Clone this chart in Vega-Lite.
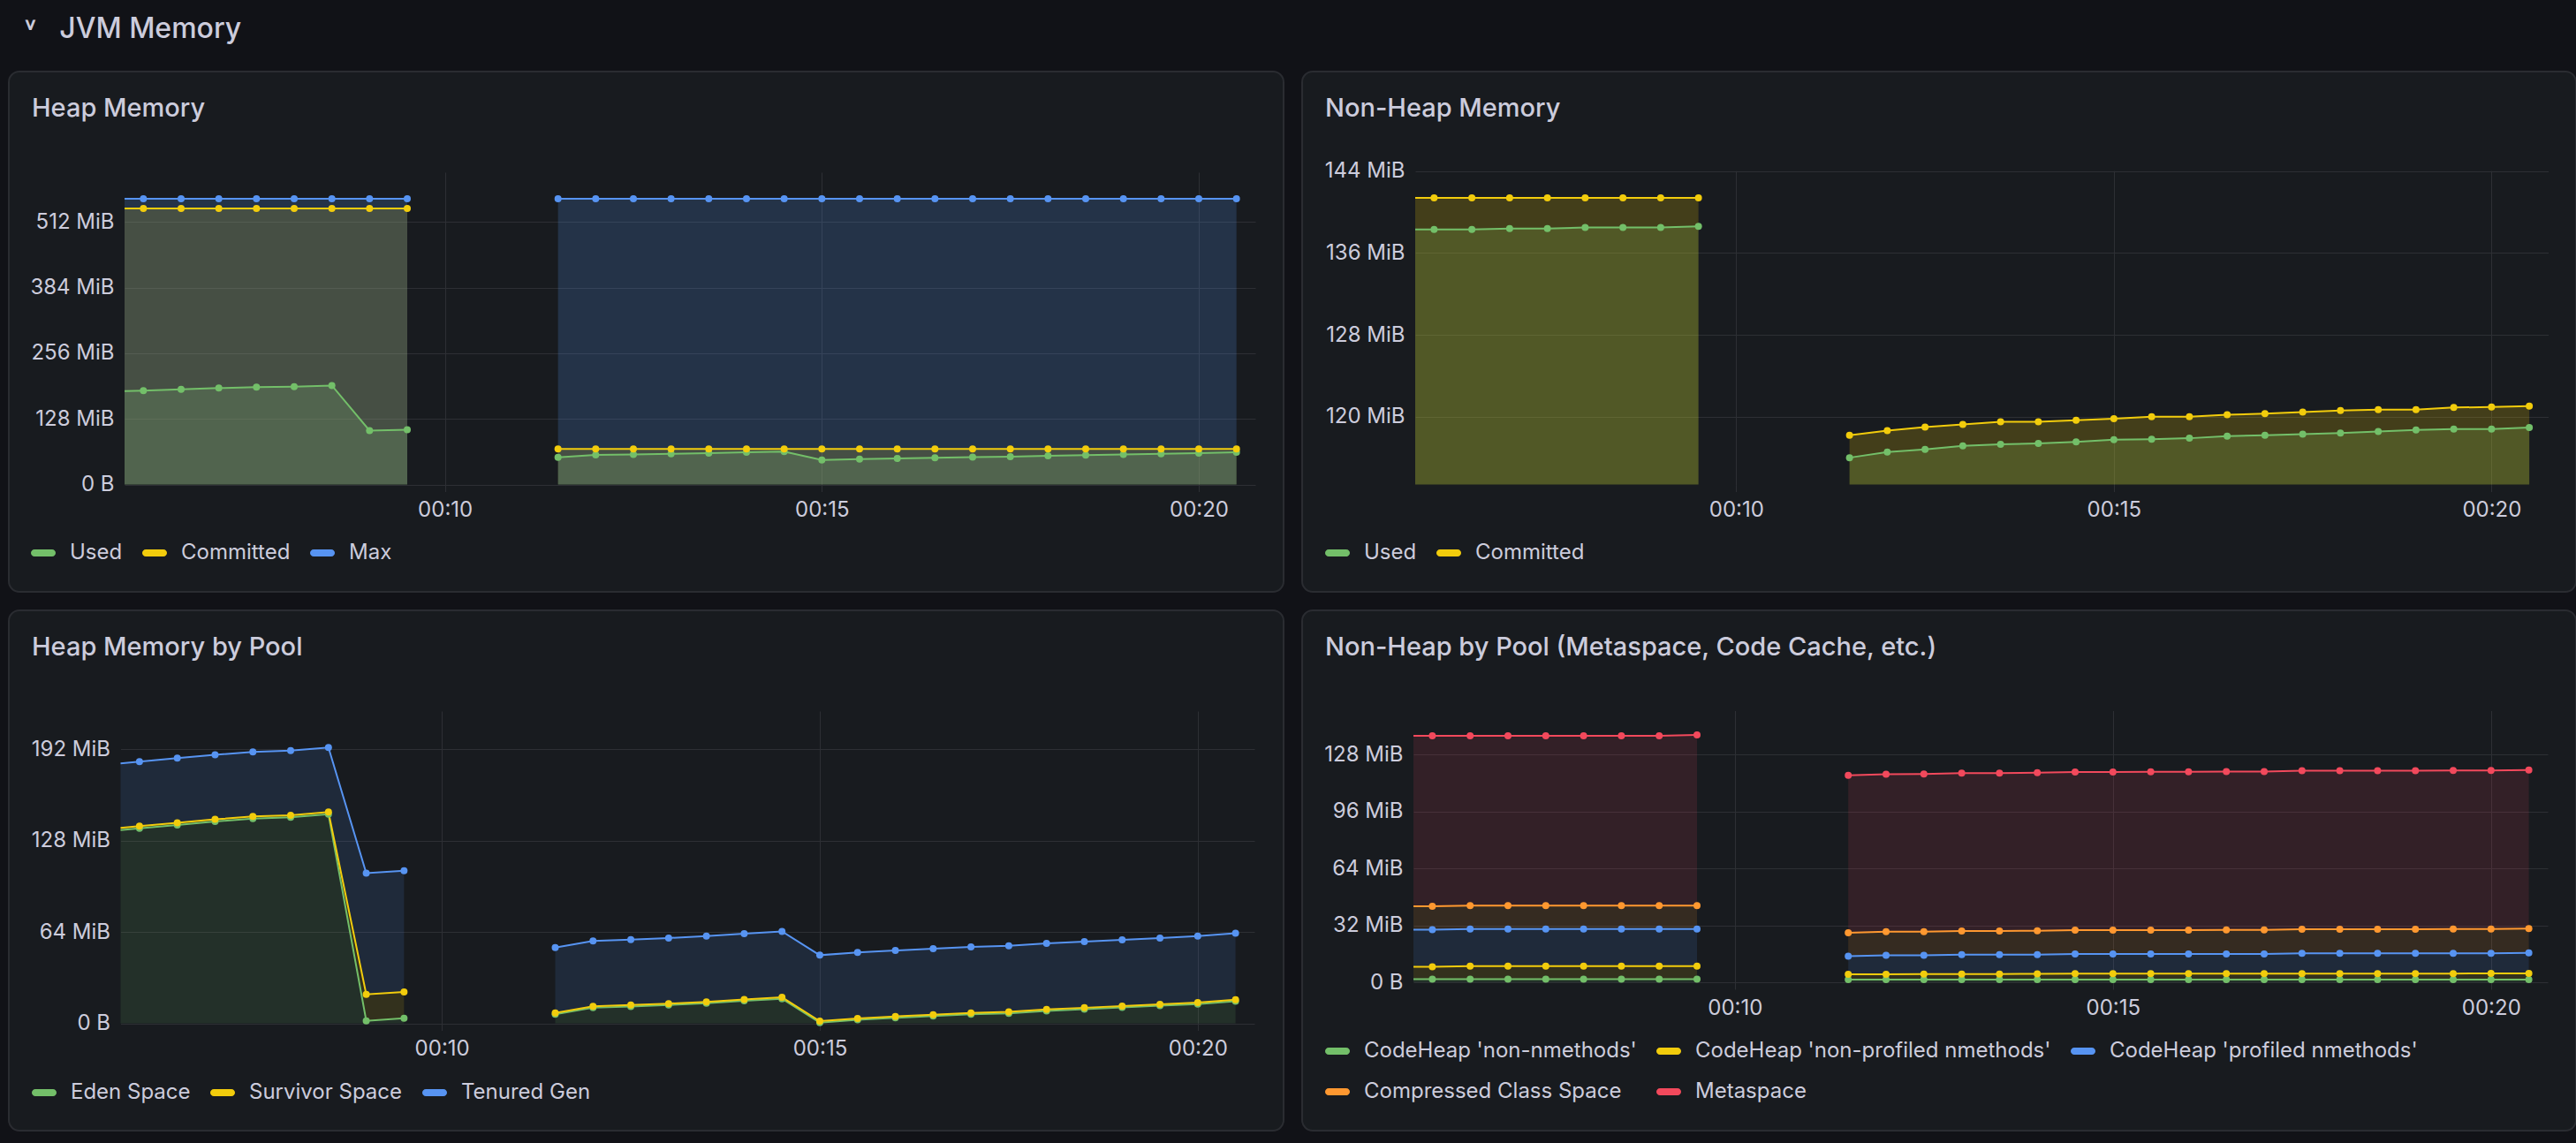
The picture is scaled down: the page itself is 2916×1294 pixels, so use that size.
{
  "$schema": "https://vega.github.io/schema/vega-lite/v6.json",
  "background": "#111217",
  "padding": {"left": 9, "top": 17, "right": 3, "bottom": 20},
  "title": {"text": "˅\u00a0\u00a0\u00a0JVM Memory", "frame": "group", "offset": 30, "fontSize": 32, "fontWeight": 500, "dx": 17},
  "resolve": {"scale": {"color": "independent"}, "legend": {"color": "independent"}},
  "datasets": {
    "heap": [
      {"t":"2024-01-01T00:05:30","g":1,"s":"Used","v":182.0},
      {"t":"2024-01-01T00:06:00","g":1,"s":"Used","v":183.2},
      {"t":"2024-01-01T00:06:30","g":1,"s":"Used","v":185.6},
      {"t":"2024-01-01T00:07:00","g":1,"s":"Used","v":188.0},
      {"t":"2024-01-01T00:07:30","g":1,"s":"Used","v":190.0},
      {"t":"2024-01-01T00:08:00","g":1,"s":"Used","v":190.9},
      {"t":"2024-01-01T00:08:30","g":1,"s":"Used","v":193.1},
      {"t":"2024-01-01T00:09:00","g":1,"s":"Used","v":105.1},
      {"t":"2024-01-01T00:09:30","g":1,"s":"Used","v":106.8},
      {"t":"2024-01-01T00:11:30","g":2,"s":"Used","v":53.0},
      {"t":"2024-01-01T00:12:00","g":2,"s":"Used","v":57.6},
      {"t":"2024-01-01T00:12:30","g":2,"s":"Used","v":58.6},
      {"t":"2024-01-01T00:13:00","g":2,"s":"Used","v":59.7},
      {"t":"2024-01-01T00:13:30","g":2,"s":"Used","v":61.0},
      {"t":"2024-01-01T00:14:00","g":2,"s":"Used","v":62.8},
      {"t":"2024-01-01T00:14:30","g":2,"s":"Used","v":64.3},
      {"t":"2024-01-01T00:15:00","g":2,"s":"Used","v":47.7},
      {"t":"2024-01-01T00:15:30","g":2,"s":"Used","v":49.6},
      {"t":"2024-01-01T00:16:00","g":2,"s":"Used","v":51.0},
      {"t":"2024-01-01T00:16:30","g":2,"s":"Used","v":52.3},
      {"t":"2024-01-01T00:17:00","g":2,"s":"Used","v":53.5},
      {"t":"2024-01-01T00:17:30","g":2,"s":"Used","v":54.2},
      {"t":"2024-01-01T00:18:00","g":2,"s":"Used","v":56.0},
      {"t":"2024-01-01T00:18:30","g":2,"s":"Used","v":57.2},
      {"t":"2024-01-01T00:19:00","g":2,"s":"Used","v":58.5},
      {"t":"2024-01-01T00:19:30","g":2,"s":"Used","v":59.7},
      {"t":"2024-01-01T00:20:00","g":2,"s":"Used","v":61.0},
      {"t":"2024-01-01T00:20:30","g":2,"s":"Used","v":63.0},
      {"t":"2024-01-01T00:05:30","g":1,"s":"Committed","v":538.5},
      {"t":"2024-01-01T00:06:00","g":1,"s":"Committed","v":538.5},
      {"t":"2024-01-01T00:06:30","g":1,"s":"Committed","v":538.5},
      {"t":"2024-01-01T00:07:00","g":1,"s":"Committed","v":538.5},
      {"t":"2024-01-01T00:07:30","g":1,"s":"Committed","v":538.5},
      {"t":"2024-01-01T00:08:00","g":1,"s":"Committed","v":538.5},
      {"t":"2024-01-01T00:08:30","g":1,"s":"Committed","v":538.5},
      {"t":"2024-01-01T00:09:00","g":1,"s":"Committed","v":538.5},
      {"t":"2024-01-01T00:09:30","g":1,"s":"Committed","v":538.5},
      {"t":"2024-01-01T00:11:30","g":2,"s":"Committed","v":69.5},
      {"t":"2024-01-01T00:12:00","g":2,"s":"Committed","v":69.5},
      {"t":"2024-01-01T00:12:30","g":2,"s":"Committed","v":69.5},
      {"t":"2024-01-01T00:13:00","g":2,"s":"Committed","v":69.5},
      {"t":"2024-01-01T00:13:30","g":2,"s":"Committed","v":69.5},
      {"t":"2024-01-01T00:14:00","g":2,"s":"Committed","v":69.5},
      {"t":"2024-01-01T00:14:30","g":2,"s":"Committed","v":69.5},
      {"t":"2024-01-01T00:15:00","g":2,"s":"Committed","v":69.5},
      {"t":"2024-01-01T00:15:30","g":2,"s":"Committed","v":69.5},
      {"t":"2024-01-01T00:16:00","g":2,"s":"Committed","v":69.5},
      {"t":"2024-01-01T00:16:30","g":2,"s":"Committed","v":69.5},
      {"t":"2024-01-01T00:17:00","g":2,"s":"Committed","v":69.5},
      {"t":"2024-01-01T00:17:30","g":2,"s":"Committed","v":69.5},
      {"t":"2024-01-01T00:18:00","g":2,"s":"Committed","v":69.5},
      {"t":"2024-01-01T00:18:30","g":2,"s":"Committed","v":69.5},
      {"t":"2024-01-01T00:19:00","g":2,"s":"Committed","v":69.5},
      {"t":"2024-01-01T00:19:30","g":2,"s":"Committed","v":69.5},
      {"t":"2024-01-01T00:20:00","g":2,"s":"Committed","v":69.5},
      {"t":"2024-01-01T00:20:30","g":2,"s":"Committed","v":69.5},
      {"t":"2024-01-01T00:05:30","g":1,"s":"Max","v":557.5},
      {"t":"2024-01-01T00:06:00","g":1,"s":"Max","v":557.5},
      {"t":"2024-01-01T00:06:30","g":1,"s":"Max","v":557.5},
      {"t":"2024-01-01T00:07:00","g":1,"s":"Max","v":557.5},
      {"t":"2024-01-01T00:07:30","g":1,"s":"Max","v":557.5},
      {"t":"2024-01-01T00:08:00","g":1,"s":"Max","v":557.5},
      {"t":"2024-01-01T00:08:30","g":1,"s":"Max","v":557.5},
      {"t":"2024-01-01T00:09:00","g":1,"s":"Max","v":557.5},
      {"t":"2024-01-01T00:09:30","g":1,"s":"Max","v":557.5},
      {"t":"2024-01-01T00:11:30","g":2,"s":"Max","v":557.5},
      {"t":"2024-01-01T00:12:00","g":2,"s":"Max","v":557.5},
      {"t":"2024-01-01T00:12:30","g":2,"s":"Max","v":557.5},
      {"t":"2024-01-01T00:13:00","g":2,"s":"Max","v":557.5},
      {"t":"2024-01-01T00:13:30","g":2,"s":"Max","v":557.5},
      {"t":"2024-01-01T00:14:00","g":2,"s":"Max","v":557.5},
      {"t":"2024-01-01T00:14:30","g":2,"s":"Max","v":557.5},
      {"t":"2024-01-01T00:15:00","g":2,"s":"Max","v":557.5},
      {"t":"2024-01-01T00:15:30","g":2,"s":"Max","v":557.5},
      {"t":"2024-01-01T00:16:00","g":2,"s":"Max","v":557.5},
      {"t":"2024-01-01T00:16:30","g":2,"s":"Max","v":557.5},
      {"t":"2024-01-01T00:17:00","g":2,"s":"Max","v":557.5},
      {"t":"2024-01-01T00:17:30","g":2,"s":"Max","v":557.5},
      {"t":"2024-01-01T00:18:00","g":2,"s":"Max","v":557.5},
      {"t":"2024-01-01T00:18:30","g":2,"s":"Max","v":557.5},
      {"t":"2024-01-01T00:19:00","g":2,"s":"Max","v":557.5},
      {"t":"2024-01-01T00:19:30","g":2,"s":"Max","v":557.5},
      {"t":"2024-01-01T00:20:00","g":2,"s":"Max","v":557.5},
      {"t":"2024-01-01T00:20:30","g":2,"s":"Max","v":557.5}
    ],
    "nonheap": [
      {"t":"2024-01-01T00:05:30","g":1,"s":"Used","v":138.3},
      {"t":"2024-01-01T00:06:00","g":1,"s":"Used","v":138.3},
      {"t":"2024-01-01T00:06:30","g":1,"s":"Used","v":138.3},
      {"t":"2024-01-01T00:07:00","g":1,"s":"Used","v":138.4},
      {"t":"2024-01-01T00:07:30","g":1,"s":"Used","v":138.4},
      {"t":"2024-01-01T00:08:00","g":1,"s":"Used","v":138.5},
      {"t":"2024-01-01T00:08:30","g":1,"s":"Used","v":138.5},
      {"t":"2024-01-01T00:09:00","g":1,"s":"Used","v":138.5},
      {"t":"2024-01-01T00:09:30","g":1,"s":"Used","v":138.6},
      {"t":"2024-01-01T00:11:30","g":2,"s":"Used","v":116.0},
      {"t":"2024-01-01T00:12:00","g":2,"s":"Used","v":116.55},
      {"t":"2024-01-01T00:12:30","g":2,"s":"Used","v":116.8},
      {"t":"2024-01-01T00:13:00","g":2,"s":"Used","v":117.15},
      {"t":"2024-01-01T00:13:30","g":2,"s":"Used","v":117.3},
      {"t":"2024-01-01T00:14:00","g":2,"s":"Used","v":117.4},
      {"t":"2024-01-01T00:14:30","g":2,"s":"Used","v":117.55},
      {"t":"2024-01-01T00:15:00","g":2,"s":"Used","v":117.75},
      {"t":"2024-01-01T00:15:30","g":2,"s":"Used","v":117.8},
      {"t":"2024-01-01T00:16:00","g":2,"s":"Used","v":117.9},
      {"t":"2024-01-01T00:16:30","g":2,"s":"Used","v":118.1},
      {"t":"2024-01-01T00:17:00","g":2,"s":"Used","v":118.2},
      {"t":"2024-01-01T00:17:30","g":2,"s":"Used","v":118.3},
      {"t":"2024-01-01T00:18:00","g":2,"s":"Used","v":118.4},
      {"t":"2024-01-01T00:18:30","g":2,"s":"Used","v":118.55},
      {"t":"2024-01-01T00:19:00","g":2,"s":"Used","v":118.7},
      {"t":"2024-01-01T00:19:30","g":2,"s":"Used","v":118.8},
      {"t":"2024-01-01T00:20:00","g":2,"s":"Used","v":118.8},
      {"t":"2024-01-01T00:20:30","g":2,"s":"Used","v":118.95},
      {"t":"2024-01-01T00:05:30","g":1,"s":"Committed","v":141.4},
      {"t":"2024-01-01T00:06:00","g":1,"s":"Committed","v":141.4},
      {"t":"2024-01-01T00:06:30","g":1,"s":"Committed","v":141.4},
      {"t":"2024-01-01T00:07:00","g":1,"s":"Committed","v":141.4},
      {"t":"2024-01-01T00:07:30","g":1,"s":"Committed","v":141.4},
      {"t":"2024-01-01T00:08:00","g":1,"s":"Committed","v":141.4},
      {"t":"2024-01-01T00:08:30","g":1,"s":"Committed","v":141.4},
      {"t":"2024-01-01T00:09:00","g":1,"s":"Committed","v":141.4},
      {"t":"2024-01-01T00:09:30","g":1,"s":"Committed","v":141.4},
      {"t":"2024-01-01T00:11:30","g":2,"s":"Committed","v":118.2},
      {"t":"2024-01-01T00:12:00","g":2,"s":"Committed","v":118.65},
      {"t":"2024-01-01T00:12:30","g":2,"s":"Committed","v":119.0},
      {"t":"2024-01-01T00:13:00","g":2,"s":"Committed","v":119.25},
      {"t":"2024-01-01T00:13:30","g":2,"s":"Committed","v":119.5},
      {"t":"2024-01-01T00:14:00","g":2,"s":"Committed","v":119.5},
      {"t":"2024-01-01T00:14:30","g":2,"s":"Committed","v":119.65},
      {"t":"2024-01-01T00:15:00","g":2,"s":"Committed","v":119.8},
      {"t":"2024-01-01T00:15:30","g":2,"s":"Committed","v":120.0},
      {"t":"2024-01-01T00:16:00","g":2,"s":"Committed","v":120.0},
      {"t":"2024-01-01T00:16:30","g":2,"s":"Committed","v":120.2},
      {"t":"2024-01-01T00:17:00","g":2,"s":"Committed","v":120.3},
      {"t":"2024-01-01T00:17:30","g":2,"s":"Committed","v":120.45},
      {"t":"2024-01-01T00:18:00","g":2,"s":"Committed","v":120.6},
      {"t":"2024-01-01T00:18:30","g":2,"s":"Committed","v":120.7},
      {"t":"2024-01-01T00:19:00","g":2,"s":"Committed","v":120.7},
      {"t":"2024-01-01T00:19:30","g":2,"s":"Committed","v":120.9},
      {"t":"2024-01-01T00:20:00","g":2,"s":"Committed","v":120.95},
      {"t":"2024-01-01T00:20:30","g":2,"s":"Committed","v":121.05}
    ],
    "heappool": [
      {"t":"2024-01-01T00:05:30","g":1,"s":"Eden Space","v":135.3},
      {"t":"2024-01-01T00:06:00","g":1,"s":"Eden Space","v":136.5},
      {"t":"2024-01-01T00:06:30","g":1,"s":"Eden Space","v":138.9},
      {"t":"2024-01-01T00:07:00","g":1,"s":"Eden Space","v":141.3},
      {"t":"2024-01-01T00:07:30","g":1,"s":"Eden Space","v":143.3},
      {"t":"2024-01-01T00:08:00","g":1,"s":"Eden Space","v":144.2},
      {"t":"2024-01-01T00:08:30","g":1,"s":"Eden Space","v":146.4},
      {"t":"2024-01-01T00:09:00","g":1,"s":"Eden Space","v":1.7},
      {"t":"2024-01-01T00:09:30","g":1,"s":"Eden Space","v":3.6},
      {"t":"2024-01-01T00:11:30","g":2,"s":"Eden Space","v":6.3},
      {"t":"2024-01-01T00:12:00","g":2,"s":"Eden Space","v":10.9},
      {"t":"2024-01-01T00:12:30","g":2,"s":"Eden Space","v":11.8},
      {"t":"2024-01-01T00:13:00","g":2,"s":"Eden Space","v":12.8},
      {"t":"2024-01-01T00:13:30","g":2,"s":"Eden Space","v":14.0},
      {"t":"2024-01-01T00:14:00","g":2,"s":"Eden Space","v":15.7},
      {"t":"2024-01-01T00:14:30","g":2,"s":"Eden Space","v":17.2},
      {"t":"2024-01-01T00:15:00","g":2,"s":"Eden Space","v":0.5},
      {"t":"2024-01-01T00:15:30","g":2,"s":"Eden Space","v":2.4},
      {"t":"2024-01-01T00:16:00","g":2,"s":"Eden Space","v":3.8},
      {"t":"2024-01-01T00:16:30","g":2,"s":"Eden Space","v":5.1},
      {"t":"2024-01-01T00:17:00","g":2,"s":"Eden Space","v":6.3},
      {"t":"2024-01-01T00:17:30","g":2,"s":"Eden Space","v":7.0},
      {"t":"2024-01-01T00:18:00","g":2,"s":"Eden Space","v":8.7},
      {"t":"2024-01-01T00:18:30","g":2,"s":"Eden Space","v":9.9},
      {"t":"2024-01-01T00:19:00","g":2,"s":"Eden Space","v":11.1},
      {"t":"2024-01-01T00:19:30","g":2,"s":"Eden Space","v":12.3},
      {"t":"2024-01-01T00:20:00","g":2,"s":"Eden Space","v":13.5},
      {"t":"2024-01-01T00:20:30","g":2,"s":"Eden Space","v":15.5},
      {"t":"2024-01-01T00:05:30","g":1,"s":"Survivor Space","v":1.5},
      {"t":"2024-01-01T00:06:00","g":1,"s":"Survivor Space","v":1.5},
      {"t":"2024-01-01T00:06:30","g":1,"s":"Survivor Space","v":1.5},
      {"t":"2024-01-01T00:07:00","g":1,"s":"Survivor Space","v":1.5},
      {"t":"2024-01-01T00:07:30","g":1,"s":"Survivor Space","v":1.5},
      {"t":"2024-01-01T00:08:00","g":1,"s":"Survivor Space","v":1.5},
      {"t":"2024-01-01T00:08:30","g":1,"s":"Survivor Space","v":1.5},
      {"t":"2024-01-01T00:09:00","g":1,"s":"Survivor Space","v":18.6},
      {"t":"2024-01-01T00:09:30","g":1,"s":"Survivor Space","v":18.4},
      {"t":"2024-01-01T00:11:30","g":2,"s":"Survivor Space","v":1.0},
      {"t":"2024-01-01T00:12:00","g":2,"s":"Survivor Space","v":1.0},
      {"t":"2024-01-01T00:12:30","g":2,"s":"Survivor Space","v":1.0},
      {"t":"2024-01-01T00:13:00","g":2,"s":"Survivor Space","v":1.0},
      {"t":"2024-01-01T00:13:30","g":2,"s":"Survivor Space","v":1.0},
      {"t":"2024-01-01T00:14:00","g":2,"s":"Survivor Space","v":1.0},
      {"t":"2024-01-01T00:14:30","g":2,"s":"Survivor Space","v":1.0},
      {"t":"2024-01-01T00:15:00","g":2,"s":"Survivor Space","v":1.0},
      {"t":"2024-01-01T00:15:30","g":2,"s":"Survivor Space","v":1.0},
      {"t":"2024-01-01T00:16:00","g":2,"s":"Survivor Space","v":1.0},
      {"t":"2024-01-01T00:16:30","g":2,"s":"Survivor Space","v":1.0},
      {"t":"2024-01-01T00:17:00","g":2,"s":"Survivor Space","v":1.0},
      {"t":"2024-01-01T00:17:30","g":2,"s":"Survivor Space","v":1.0},
      {"t":"2024-01-01T00:18:00","g":2,"s":"Survivor Space","v":1.0},
      {"t":"2024-01-01T00:18:30","g":2,"s":"Survivor Space","v":1.0},
      {"t":"2024-01-01T00:19:00","g":2,"s":"Survivor Space","v":1.0},
      {"t":"2024-01-01T00:19:30","g":2,"s":"Survivor Space","v":1.0},
      {"t":"2024-01-01T00:20:00","g":2,"s":"Survivor Space","v":1.0},
      {"t":"2024-01-01T00:20:30","g":2,"s":"Survivor Space","v":1.0},
      {"t":"2024-01-01T00:05:30","g":1,"s":"Tenured Gen","v":45.2},
      {"t":"2024-01-01T00:06:00","g":1,"s":"Tenured Gen","v":45.2},
      {"t":"2024-01-01T00:06:30","g":1,"s":"Tenured Gen","v":45.2},
      {"t":"2024-01-01T00:07:00","g":1,"s":"Tenured Gen","v":45.2},
      {"t":"2024-01-01T00:07:30","g":1,"s":"Tenured Gen","v":45.2},
      {"t":"2024-01-01T00:08:00","g":1,"s":"Tenured Gen","v":45.2},
      {"t":"2024-01-01T00:08:30","g":1,"s":"Tenured Gen","v":45.2},
      {"t":"2024-01-01T00:09:00","g":1,"s":"Tenured Gen","v":84.8},
      {"t":"2024-01-01T00:09:30","g":1,"s":"Tenured Gen","v":84.8},
      {"t":"2024-01-01T00:11:30","g":2,"s":"Tenured Gen","v":45.7},
      {"t":"2024-01-01T00:12:00","g":2,"s":"Tenured Gen","v":45.7},
      {"t":"2024-01-01T00:12:30","g":2,"s":"Tenured Gen","v":45.8},
      {"t":"2024-01-01T00:13:00","g":2,"s":"Tenured Gen","v":45.9},
      {"t":"2024-01-01T00:13:30","g":2,"s":"Tenured Gen","v":46.0},
      {"t":"2024-01-01T00:14:00","g":2,"s":"Tenured Gen","v":46.1},
      {"t":"2024-01-01T00:14:30","g":2,"s":"Tenured Gen","v":46.1},
      {"t":"2024-01-01T00:15:00","g":2,"s":"Tenured Gen","v":46.2},
      {"t":"2024-01-01T00:15:30","g":2,"s":"Tenured Gen","v":46.2},
      {"t":"2024-01-01T00:16:00","g":2,"s":"Tenured Gen","v":46.2},
      {"t":"2024-01-01T00:16:30","g":2,"s":"Tenured Gen","v":46.2},
      {"t":"2024-01-01T00:17:00","g":2,"s":"Tenured Gen","v":46.2},
      {"t":"2024-01-01T00:17:30","g":2,"s":"Tenured Gen","v":46.2},
      {"t":"2024-01-01T00:18:00","g":2,"s":"Tenured Gen","v":46.3},
      {"t":"2024-01-01T00:18:30","g":2,"s":"Tenured Gen","v":46.3},
      {"t":"2024-01-01T00:19:00","g":2,"s":"Tenured Gen","v":46.4},
      {"t":"2024-01-01T00:19:30","g":2,"s":"Tenured Gen","v":46.4},
      {"t":"2024-01-01T00:20:00","g":2,"s":"Tenured Gen","v":46.5},
      {"t":"2024-01-01T00:20:30","g":2,"s":"Tenured Gen","v":46.5}
    ],
    "nonheappool": [
      {"t":"2024-01-01T00:05:30","g":1,"s":"CodeHeap 'non-nmethods'","v":1.75},
      {"t":"2024-01-01T00:06:00","g":1,"s":"CodeHeap 'non-nmethods'","v":1.75},
      {"t":"2024-01-01T00:06:30","g":1,"s":"CodeHeap 'non-nmethods'","v":1.75},
      {"t":"2024-01-01T00:07:00","g":1,"s":"CodeHeap 'non-nmethods'","v":1.75},
      {"t":"2024-01-01T00:07:30","g":1,"s":"CodeHeap 'non-nmethods'","v":1.75},
      {"t":"2024-01-01T00:08:00","g":1,"s":"CodeHeap 'non-nmethods'","v":1.75},
      {"t":"2024-01-01T00:08:30","g":1,"s":"CodeHeap 'non-nmethods'","v":1.75},
      {"t":"2024-01-01T00:09:00","g":1,"s":"CodeHeap 'non-nmethods'","v":1.75},
      {"t":"2024-01-01T00:09:30","g":1,"s":"CodeHeap 'non-nmethods'","v":1.75},
      {"t":"2024-01-01T00:11:30","g":2,"s":"CodeHeap 'non-nmethods'","v":1.55},
      {"t":"2024-01-01T00:12:00","g":2,"s":"CodeHeap 'non-nmethods'","v":1.55},
      {"t":"2024-01-01T00:12:30","g":2,"s":"CodeHeap 'non-nmethods'","v":1.55},
      {"t":"2024-01-01T00:13:00","g":2,"s":"CodeHeap 'non-nmethods'","v":1.55},
      {"t":"2024-01-01T00:13:30","g":2,"s":"CodeHeap 'non-nmethods'","v":1.55},
      {"t":"2024-01-01T00:14:00","g":2,"s":"CodeHeap 'non-nmethods'","v":1.55},
      {"t":"2024-01-01T00:14:30","g":2,"s":"CodeHeap 'non-nmethods'","v":1.55},
      {"t":"2024-01-01T00:15:00","g":2,"s":"CodeHeap 'non-nmethods'","v":1.55},
      {"t":"2024-01-01T00:15:30","g":2,"s":"CodeHeap 'non-nmethods'","v":1.55},
      {"t":"2024-01-01T00:16:00","g":2,"s":"CodeHeap 'non-nmethods'","v":1.55},
      {"t":"2024-01-01T00:16:30","g":2,"s":"CodeHeap 'non-nmethods'","v":1.55},
      {"t":"2024-01-01T00:17:00","g":2,"s":"CodeHeap 'non-nmethods'","v":1.55},
      {"t":"2024-01-01T00:17:30","g":2,"s":"CodeHeap 'non-nmethods'","v":1.55},
      {"t":"2024-01-01T00:18:00","g":2,"s":"CodeHeap 'non-nmethods'","v":1.55},
      {"t":"2024-01-01T00:18:30","g":2,"s":"CodeHeap 'non-nmethods'","v":1.55},
      {"t":"2024-01-01T00:19:00","g":2,"s":"CodeHeap 'non-nmethods'","v":1.55},
      {"t":"2024-01-01T00:19:30","g":2,"s":"CodeHeap 'non-nmethods'","v":1.55},
      {"t":"2024-01-01T00:20:00","g":2,"s":"CodeHeap 'non-nmethods'","v":1.55},
      {"t":"2024-01-01T00:20:30","g":2,"s":"CodeHeap 'non-nmethods'","v":1.55},
      {"t":"2024-01-01T00:05:30","g":1,"s":"CodeHeap 'non-profiled nmethods'","v":6.95},
      {"t":"2024-01-01T00:06:00","g":1,"s":"CodeHeap 'non-profiled nmethods'","v":6.95},
      {"t":"2024-01-01T00:06:30","g":1,"s":"CodeHeap 'non-profiled nmethods'","v":7.35},
      {"t":"2024-01-01T00:07:00","g":1,"s":"CodeHeap 'non-profiled nmethods'","v":7.35},
      {"t":"2024-01-01T00:07:30","g":1,"s":"CodeHeap 'non-profiled nmethods'","v":7.35},
      {"t":"2024-01-01T00:08:00","g":1,"s":"CodeHeap 'non-profiled nmethods'","v":7.35},
      {"t":"2024-01-01T00:08:30","g":1,"s":"CodeHeap 'non-profiled nmethods'","v":7.35},
      {"t":"2024-01-01T00:09:00","g":1,"s":"CodeHeap 'non-profiled nmethods'","v":7.35},
      {"t":"2024-01-01T00:09:30","g":1,"s":"CodeHeap 'non-profiled nmethods'","v":7.35},
      {"t":"2024-01-01T00:11:30","g":2,"s":"CodeHeap 'non-profiled nmethods'","v":2.95},
      {"t":"2024-01-01T00:12:00","g":2,"s":"CodeHeap 'non-profiled nmethods'","v":2.95},
      {"t":"2024-01-01T00:12:30","g":2,"s":"CodeHeap 'non-profiled nmethods'","v":3.05},
      {"t":"2024-01-01T00:13:00","g":2,"s":"CodeHeap 'non-profiled nmethods'","v":3.05},
      {"t":"2024-01-01T00:13:30","g":2,"s":"CodeHeap 'non-profiled nmethods'","v":3.05},
      {"t":"2024-01-01T00:14:00","g":2,"s":"CodeHeap 'non-profiled nmethods'","v":3.15},
      {"t":"2024-01-01T00:14:30","g":2,"s":"CodeHeap 'non-profiled nmethods'","v":3.25},
      {"t":"2024-01-01T00:15:00","g":2,"s":"CodeHeap 'non-profiled nmethods'","v":3.35},
      {"t":"2024-01-01T00:15:30","g":2,"s":"CodeHeap 'non-profiled nmethods'","v":3.35},
      {"t":"2024-01-01T00:16:00","g":2,"s":"CodeHeap 'non-profiled nmethods'","v":3.35},
      {"t":"2024-01-01T00:16:30","g":2,"s":"CodeHeap 'non-profiled nmethods'","v":3.35},
      {"t":"2024-01-01T00:17:00","g":2,"s":"CodeHeap 'non-profiled nmethods'","v":3.35},
      {"t":"2024-01-01T00:17:30","g":2,"s":"CodeHeap 'non-profiled nmethods'","v":3.35},
      {"t":"2024-01-01T00:18:00","g":2,"s":"CodeHeap 'non-profiled nmethods'","v":3.35},
      {"t":"2024-01-01T00:18:30","g":2,"s":"CodeHeap 'non-profiled nmethods'","v":3.35},
      {"t":"2024-01-01T00:19:00","g":2,"s":"CodeHeap 'non-profiled nmethods'","v":3.35},
      {"t":"2024-01-01T00:19:30","g":2,"s":"CodeHeap 'non-profiled nmethods'","v":3.35},
      {"t":"2024-01-01T00:20:00","g":2,"s":"CodeHeap 'non-profiled nmethods'","v":3.45},
      {"t":"2024-01-01T00:20:30","g":2,"s":"CodeHeap 'non-profiled nmethods'","v":3.45},
      {"t":"2024-01-01T00:05:30","g":1,"s":"CodeHeap 'profiled nmethods'","v":20.8},
      {"t":"2024-01-01T00:06:00","g":1,"s":"CodeHeap 'profiled nmethods'","v":20.8},
      {"t":"2024-01-01T00:06:30","g":1,"s":"CodeHeap 'profiled nmethods'","v":20.8},
      {"t":"2024-01-01T00:07:00","g":1,"s":"CodeHeap 'profiled nmethods'","v":20.8},
      {"t":"2024-01-01T00:07:30","g":1,"s":"CodeHeap 'profiled nmethods'","v":20.8},
      {"t":"2024-01-01T00:08:00","g":1,"s":"CodeHeap 'profiled nmethods'","v":20.8},
      {"t":"2024-01-01T00:08:30","g":1,"s":"CodeHeap 'profiled nmethods'","v":20.8},
      {"t":"2024-01-01T00:09:00","g":1,"s":"CodeHeap 'profiled nmethods'","v":20.8},
      {"t":"2024-01-01T00:09:30","g":1,"s":"CodeHeap 'profiled nmethods'","v":20.8},
      {"t":"2024-01-01T00:11:30","g":2,"s":"CodeHeap 'profiled nmethods'","v":10.1},
      {"t":"2024-01-01T00:12:00","g":2,"s":"CodeHeap 'profiled nmethods'","v":10.65},
      {"t":"2024-01-01T00:12:30","g":2,"s":"CodeHeap 'profiled nmethods'","v":10.55},
      {"t":"2024-01-01T00:13:00","g":2,"s":"CodeHeap 'profiled nmethods'","v":10.9},
      {"t":"2024-01-01T00:13:30","g":2,"s":"CodeHeap 'profiled nmethods'","v":10.9},
      {"t":"2024-01-01T00:14:00","g":2,"s":"CodeHeap 'profiled nmethods'","v":10.8},
      {"t":"2024-01-01T00:14:30","g":2,"s":"CodeHeap 'profiled nmethods'","v":11.1},
      {"t":"2024-01-01T00:15:00","g":2,"s":"CodeHeap 'profiled nmethods'","v":11.0},
      {"t":"2024-01-01T00:15:30","g":2,"s":"CodeHeap 'profiled nmethods'","v":11.0},
      {"t":"2024-01-01T00:16:00","g":2,"s":"CodeHeap 'profiled nmethods'","v":11.0},
      {"t":"2024-01-01T00:16:30","g":2,"s":"CodeHeap 'profiled nmethods'","v":11.0},
      {"t":"2024-01-01T00:17:00","g":2,"s":"CodeHeap 'profiled nmethods'","v":11.0},
      {"t":"2024-01-01T00:17:30","g":2,"s":"CodeHeap 'profiled nmethods'","v":11.4},
      {"t":"2024-01-01T00:18:00","g":2,"s":"CodeHeap 'profiled nmethods'","v":11.4},
      {"t":"2024-01-01T00:18:30","g":2,"s":"CodeHeap 'profiled nmethods'","v":11.4},
      {"t":"2024-01-01T00:19:00","g":2,"s":"CodeHeap 'profiled nmethods'","v":11.4},
      {"t":"2024-01-01T00:19:30","g":2,"s":"CodeHeap 'profiled nmethods'","v":11.4},
      {"t":"2024-01-01T00:20:00","g":2,"s":"CodeHeap 'profiled nmethods'","v":11.3},
      {"t":"2024-01-01T00:20:30","g":2,"s":"CodeHeap 'profiled nmethods'","v":11.5},
      {"t":"2024-01-01T00:05:30","g":1,"s":"Compressed Class Space","v":13.2},
      {"t":"2024-01-01T00:06:00","g":1,"s":"Compressed Class Space","v":13.2},
      {"t":"2024-01-01T00:06:30","g":1,"s":"Compressed Class Space","v":13.2},
      {"t":"2024-01-01T00:07:00","g":1,"s":"Compressed Class Space","v":13.2},
      {"t":"2024-01-01T00:07:30","g":1,"s":"Compressed Class Space","v":13.2},
      {"t":"2024-01-01T00:08:00","g":1,"s":"Compressed Class Space","v":13.2},
      {"t":"2024-01-01T00:08:30","g":1,"s":"Compressed Class Space","v":13.2},
      {"t":"2024-01-01T00:09:00","g":1,"s":"Compressed Class Space","v":13.2},
      {"t":"2024-01-01T00:09:30","g":1,"s":"Compressed Class Space","v":13.2},
      {"t":"2024-01-01T00:11:30","g":2,"s":"Compressed Class Space","v":13.2},
      {"t":"2024-01-01T00:12:00","g":2,"s":"Compressed Class Space","v":13.2},
      {"t":"2024-01-01T00:12:30","g":2,"s":"Compressed Class Space","v":13.3},
      {"t":"2024-01-01T00:13:00","g":2,"s":"Compressed Class Space","v":13.3},
      {"t":"2024-01-01T00:13:30","g":2,"s":"Compressed Class Space","v":13.3},
      {"t":"2024-01-01T00:14:00","g":2,"s":"Compressed Class Space","v":13.4},
      {"t":"2024-01-01T00:14:30","g":2,"s":"Compressed Class Space","v":13.4},
      {"t":"2024-01-01T00:15:00","g":2,"s":"Compressed Class Space","v":13.4},
      {"t":"2024-01-01T00:15:30","g":2,"s":"Compressed Class Space","v":13.4},
      {"t":"2024-01-01T00:16:00","g":2,"s":"Compressed Class Space","v":13.4},
      {"t":"2024-01-01T00:16:30","g":2,"s":"Compressed Class Space","v":13.5},
      {"t":"2024-01-01T00:17:00","g":2,"s":"Compressed Class Space","v":13.5},
      {"t":"2024-01-01T00:17:30","g":2,"s":"Compressed Class Space","v":13.5},
      {"t":"2024-01-01T00:18:00","g":2,"s":"Compressed Class Space","v":13.5},
      {"t":"2024-01-01T00:18:30","g":2,"s":"Compressed Class Space","v":13.5},
      {"t":"2024-01-01T00:19:00","g":2,"s":"Compressed Class Space","v":13.5},
      {"t":"2024-01-01T00:19:30","g":2,"s":"Compressed Class Space","v":13.6},
      {"t":"2024-01-01T00:20:00","g":2,"s":"Compressed Class Space","v":13.6},
      {"t":"2024-01-01T00:20:30","g":2,"s":"Compressed Class Space","v":13.6},
      {"t":"2024-01-01T00:05:30","g":1,"s":"Metaspace","v":95.8},
      {"t":"2024-01-01T00:06:00","g":1,"s":"Metaspace","v":95.8},
      {"t":"2024-01-01T00:06:30","g":1,"s":"Metaspace","v":95.4},
      {"t":"2024-01-01T00:07:00","g":1,"s":"Metaspace","v":95.4},
      {"t":"2024-01-01T00:07:30","g":1,"s":"Metaspace","v":95.4},
      {"t":"2024-01-01T00:08:00","g":1,"s":"Metaspace","v":95.4},
      {"t":"2024-01-01T00:08:30","g":1,"s":"Metaspace","v":95.4},
      {"t":"2024-01-01T00:09:00","g":1,"s":"Metaspace","v":95.4},
      {"t":"2024-01-01T00:09:30","g":1,"s":"Metaspace","v":95.8},
      {"t":"2024-01-01T00:11:30","g":2,"s":"Metaspace","v":88.4},
      {"t":"2024-01-01T00:12:00","g":2,"s":"Metaspace","v":88.5},
      {"t":"2024-01-01T00:12:30","g":2,"s":"Metaspace","v":88.6},
      {"t":"2024-01-01T00:13:00","g":2,"s":"Metaspace","v":88.7},
      {"t":"2024-01-01T00:13:30","g":2,"s":"Metaspace","v":88.7},
      {"t":"2024-01-01T00:14:00","g":2,"s":"Metaspace","v":88.8},
      {"t":"2024-01-01T00:14:30","g":2,"s":"Metaspace","v":88.8},
      {"t":"2024-01-01T00:15:00","g":2,"s":"Metaspace","v":88.8},
      {"t":"2024-01-01T00:15:30","g":2,"s":"Metaspace","v":88.9},
      {"t":"2024-01-01T00:16:00","g":2,"s":"Metaspace","v":88.9},
      {"t":"2024-01-01T00:16:30","g":2,"s":"Metaspace","v":88.9},
      {"t":"2024-01-01T00:17:00","g":2,"s":"Metaspace","v":89.0},
      {"t":"2024-01-01T00:17:30","g":2,"s":"Metaspace","v":89.0},
      {"t":"2024-01-01T00:18:00","g":2,"s":"Metaspace","v":89.0},
      {"t":"2024-01-01T00:18:30","g":2,"s":"Metaspace","v":89.0},
      {"t":"2024-01-01T00:19:00","g":2,"s":"Metaspace","v":89.1},
      {"t":"2024-01-01T00:19:30","g":2,"s":"Metaspace","v":89.1},
      {"t":"2024-01-01T00:20:00","g":2,"s":"Metaspace","v":89.1},
      {"t":"2024-01-01T00:20:30","g":2,"s":"Metaspace","v":89.1}
    ]
  },
  "spacing": 19,
  "vconcat": [
    {
      "spacing": 19,
      "resolve": {"scale": {"color": "independent"}, "legend": {"color": "independent"}},
      "hconcat": [
        {
          "width": 1443, "height": 589,
          "title": {"text": "Heap Memory"},
          "data": {"name": "heap"},
          "encoding": {
            "y": {"field": "v", "type": "quantitative", "stack": null,
                  "scale": {"domain": [0, 609], "range": [467.5, 114]},
                  "axis": {"values": [0, 128, 256, 384, 512], "offset": -131, "labelExpr": "datum.value == 0 ? '0 B' : datum.value + ' MiB'"}},
            "color": {"field": "s", "type": "nominal", "scale": {"domain": ["Used", "Committed", "Max"], "range": ["#73BF69", "#F2CC0C", "#5794F2"]},
                      "legend": {"legendX": 25, "legendY": 531, "columns": 3, "title": null, "symbolOpacity": 1, "encode": {"symbols": {"update": {"fillOpacity": {"value": 1}, "strokeWidth": {"value": 0}}}}}},
            "detail": {"field": "g", "type": "nominal"}
          },
          "layer": [
            {"mark": {"type": "area", "fillOpacity": 0.2},
             "encoding": {"x": {"field": "t", "type": "temporal",
               "scale": {"domain": [{"year": 2024, "month": 1, "date": 1, "hours": 0, "minutes": 5, "seconds": 45}, {"year": 2024, "month": 1, "date": 1, "hours": 0, "minutes": 20, "seconds": 45}], "range": [131, 1411], "clamp": true},
               "axis": {"orient": "top", "grid": true, "labels": false, "ticks": false, "domain": false,
                        "values": [{"year": 2024, "month": 1, "date": 1, "hours": 0, "minutes": 10}, {"year": 2024, "month": 1, "date": 1, "hours": 0, "minutes": 15}, {"year": 2024, "month": 1, "date": 1, "hours": 0, "minutes": 20}]}}}},
            {"mark": {"type": "line", "strokeWidth": 2},
             "encoding": {"x": {"field": "t", "type": "temporal",
               "axis": {"orient": "bottom", "offset": -121.5, "grid": false, "ticks": true, "tickSize": 8, "tickColor": "#2d2f34", "labelPadding": 9, "format": "%H:%M", "domain": false,
                        "values": [{"year": 2024, "month": 1, "date": 1, "hours": 0, "minutes": 10}, {"year": 2024, "month": 1, "date": 1, "hours": 0, "minutes": 15}, {"year": 2024, "month": 1, "date": 1, "hours": 0, "minutes": 20}]}}}},
            {"transform": [{"filter": {"field": "t", "gt": {"year": 2024, "month": 1, "date": 1, "hours": 0, "minutes": 5, "seconds": 45}}}],
             "mark": {"type": "circle", "size": 64, "opacity": 1},
             "encoding": {"x": {"field": "t", "type": "temporal", "axis": null}}}
          ],
          "resolve": {"axis": {"x": "independent"}}
        },
        {
          "width": 1442, "height": 589,
          "title": {"text": "Non-Heap Memory"},
          "data": {"name": "nonheap"},
          "encoding": {
            "y": {"field": "v", "type": "quantitative", "stack": null,
                  "scale": {"domain": [113.37, 144.05], "range": [467.6, 112.2], "zero": false},
                  "axis": {"values": [120, 128, 136, 144], "offset": -128, "labelExpr": "datum.value + ' MiB'"}},
            "color": {"field": "s", "type": "nominal", "scale": {"domain": ["Used", "Committed"], "range": ["#73BF69", "#F2CC0C"]},
                      "legend": {"legendX": 26, "legendY": 531, "columns": 2, "title": null, "symbolOpacity": 1, "encode": {"symbols": {"update": {"fillOpacity": {"value": 1}, "strokeWidth": {"value": 0}}}}}},
            "detail": {"field": "g", "type": "nominal"}
          },
          "layer": [
            {"mark": {"type": "area", "fillOpacity": 0.2},
             "encoding": {"y2": {"datum": 113.37},
               "x": {"field": "t", "type": "temporal",
               "scale": {"domain": [{"year": 2024, "month": 1, "date": 1, "hours": 0, "minutes": 5, "seconds": 45}, {"year": 2024, "month": 1, "date": 1, "hours": 0, "minutes": 20, "seconds": 45}], "range": [128, 1410.5], "clamp": true},
               "axis": {"orient": "top", "grid": true, "labels": false, "ticks": false, "domain": false,
                        "values": [{"year": 2024, "month": 1, "date": 1, "hours": 0, "minutes": 10}, {"year": 2024, "month": 1, "date": 1, "hours": 0, "minutes": 15}, {"year": 2024, "month": 1, "date": 1, "hours": 0, "minutes": 20}]}}}},
            {"mark": {"type": "line", "strokeWidth": 2},
             "encoding": {"x": {"field": "t", "type": "temporal",
               "axis": {"orient": "bottom", "offset": -121.4, "grid": false, "ticks": true, "tickSize": 8, "tickColor": "#2d2f34", "labelPadding": 9, "format": "%H:%M", "domain": false,
                        "values": [{"year": 2024, "month": 1, "date": 1, "hours": 0, "minutes": 10}, {"year": 2024, "month": 1, "date": 1, "hours": 0, "minutes": 15}, {"year": 2024, "month": 1, "date": 1, "hours": 0, "minutes": 20}]}}}},
            {"transform": [{"filter": {"field": "t", "gt": {"year": 2024, "month": 1, "date": 1, "hours": 0, "minutes": 5, "seconds": 45}}}],
             "mark": {"type": "circle", "size": 64, "opacity": 1},
             "encoding": {"x": {"field": "t", "type": "temporal", "axis": null}}}
          ],
          "resolve": {"axis": {"x": "independent"}}
        }
      ]
    },
    {
      "spacing": 19,
      "resolve": {"scale": {"color": "independent"}, "legend": {"color": "independent"}},
      "hconcat": [
        {
          "width": 1443, "height": 589,
          "title": {"text": "Heap Memory by Pool"},
          "data": {"name": "heappool"},
          "transform": [{"stack": "v", "groupby": ["t"], "sort": [{"field": "s", "order": "ascending"}], "as": ["v0", "v1"]}],
          "encoding": {
            "y": {"field": "v1", "type": "quantitative",
                  "scale": {"domain": [0, 218.6], "range": [467.5, 114]},
                  "axis": {"values": [0, 64, 128, 192], "offset": -126.5, "labelExpr": "datum.value == 0 ? '0 B' : datum.value + ' MiB'"}},
            "color": {"field": "s", "type": "nominal", "scale": {"domain": ["Eden Space", "Survivor Space", "Tenured Gen"], "range": ["#73BF69", "#F2CC0C", "#5794F2"]},
                      "legend": {"legendX": 26, "legendY": 532, "columns": 3, "title": null, "symbolOpacity": 1, "encode": {"symbols": {"update": {"fillOpacity": {"value": 1}, "strokeWidth": {"value": 0}}}}}},
            "detail": {"field": "g", "type": "nominal"}
          },
          "layer": [
            {"mark": {"type": "area", "fillOpacity": 0.13},
             "encoding": {"y2": {"field": "v0"},
               "x": {"field": "t", "type": "temporal",
               "scale": {"domain": [{"year": 2024, "month": 1, "date": 1, "hours": 0, "minutes": 5, "seconds": 45}, {"year": 2024, "month": 1, "date": 1, "hours": 0, "minutes": 20, "seconds": 45}], "range": [126.5, 1410], "clamp": true},
               "axis": {"orient": "top", "grid": true, "labels": false, "ticks": false, "domain": false,
                        "values": [{"year": 2024, "month": 1, "date": 1, "hours": 0, "minutes": 10}, {"year": 2024, "month": 1, "date": 1, "hours": 0, "minutes": 15}, {"year": 2024, "month": 1, "date": 1, "hours": 0, "minutes": 20}]}}}},
            {"mark": {"type": "line", "strokeWidth": 2},
             "encoding": {"x": {"field": "t", "type": "temporal",
               "axis": {"orient": "bottom", "offset": -121.5, "grid": false, "ticks": true, "tickSize": 8, "tickColor": "#2d2f34", "labelPadding": 9, "format": "%H:%M", "domain": false,
                        "values": [{"year": 2024, "month": 1, "date": 1, "hours": 0, "minutes": 10}, {"year": 2024, "month": 1, "date": 1, "hours": 0, "minutes": 15}, {"year": 2024, "month": 1, "date": 1, "hours": 0, "minutes": 20}]}}}},
            {"transform": [{"filter": {"field": "t", "gt": {"year": 2024, "month": 1, "date": 1, "hours": 0, "minutes": 5, "seconds": 45}}}],
             "mark": {"type": "circle", "size": 64, "opacity": 1},
             "encoding": {"x": {"field": "t", "type": "temporal", "axis": null}}}
          ],
          "resolve": {"axis": {"x": "independent"}}
        },
        {
          "width": 1442, "height": 589,
          "title": {"text": "Non-Heap by Pool (Metaspace, Code Cache, etc.)"},
          "data": {"name": "nonheappool"},
          "transform": [{"stack": "v", "groupby": ["t"], "sort": [{"field": "s", "order": "ascending"}], "as": ["v0", "v1"]}],
          "encoding": {
            "y": {"field": "v1", "type": "quantitative",
                  "scale": {"domain": [0, 152.6], "range": [421, 113.5]},
                  "axis": {"values": [0, 32, 64, 96, 128], "offset": -126, "labelExpr": "datum.value == 0 ? '0 B' : datum.value + ' MiB'"}},
            "color": {"field": "s", "type": "nominal", "scale": {"domain": ["CodeHeap 'non-nmethods'", "CodeHeap 'non-profiled nmethods'", "CodeHeap 'profiled nmethods'", "Compressed Class Space", "Metaspace"], "range": ["#73BF69", "#F2CC0C", "#5794F2", "#FF9830", "#F2495C"]},
                      "legend": {"legendX": 26, "legendY": 485, "columns": 3, "title": null, "symbolOpacity": 1, "encode": {"symbols": {"update": {"fillOpacity": {"value": 1}, "strokeWidth": {"value": 0}}}}}},
            "detail": {"field": "g", "type": "nominal"}
          },
          "layer": [
            {"mark": {"type": "area", "fillOpacity": 0.13},
             "encoding": {"y2": {"field": "v0"},
               "x": {"field": "t", "type": "temporal",
               "scale": {"domain": [{"year": 2024, "month": 1, "date": 1, "hours": 0, "minutes": 5, "seconds": 45}, {"year": 2024, "month": 1, "date": 1, "hours": 0, "minutes": 20, "seconds": 45}], "range": [126, 1410], "clamp": true},
               "axis": {"orient": "top", "grid": true, "labels": false, "ticks": false, "domain": false,
                        "values": [{"year": 2024, "month": 1, "date": 1, "hours": 0, "minutes": 10}, {"year": 2024, "month": 1, "date": 1, "hours": 0, "minutes": 15}, {"year": 2024, "month": 1, "date": 1, "hours": 0, "minutes": 20}]}}}},
            {"mark": {"type": "line", "strokeWidth": 2},
             "encoding": {"x": {"field": "t", "type": "temporal",
               "axis": {"orient": "bottom", "offset": -168, "grid": false, "ticks": true, "tickSize": 8, "tickColor": "#2d2f34", "labelPadding": 9, "format": "%H:%M", "domain": false,
                        "values": [{"year": 2024, "month": 1, "date": 1, "hours": 0, "minutes": 10}, {"year": 2024, "month": 1, "date": 1, "hours": 0, "minutes": 15}, {"year": 2024, "month": 1, "date": 1, "hours": 0, "minutes": 20}]}}}},
            {"transform": [{"filter": {"field": "t", "gt": {"year": 2024, "month": 1, "date": 1, "hours": 0, "minutes": 5, "seconds": 45}}}],
             "mark": {"type": "circle", "size": 64, "opacity": 1},
             "encoding": {"x": {"field": "t", "type": "temporal", "axis": null}}}
          ],
          "resolve": {"axis": {"x": "independent"}}
        }
      ]
    }
  ],
  "config": {
    "font": "Inter",
    "view": {"fill": "#181b1f", "stroke": "#2a2c31", "strokeWidth": 2, "cornerRadius": 12},
    "title": {"anchor": "start", "frame": "group", "font": "Inter", "fontSize": 29, "fontWeight": 500, "color": "#ccccdc", "baseline": "alphabetic", "offset": -57, "dx": 26},
    "axis": {"labelFont": "Inter", "labelFontSize": 24, "labelColor": "#ccccdc", "gridColor": "#2d2f34", "gridWidth": 1, "domain": false, "ticks": false, "tickSize": 0, "title": null, "labelPadding": 12},
    "legend": {"orient": "none", "direction": "horizontal",
               "symbolType": "M-0.714,-0.286L0.714,-0.286A0.286,0.286,0,0,1,0.714,0.286L-0.714,0.286A0.286,0.286,0,0,1,-0.714,-0.286Z",
               "symbolSize": 784, "symbolStrokeWidth": 0, "symbolOpacity": 1,
               "labelFont": "Inter", "labelFontSize": 24, "labelColor": "#ccccdc", "labelOffset": 16,
               "columnPadding": 22, "rowPadding": 20, "labelLimit": 0, "padding": 0, "gridAlign": "none"}
  }
}
